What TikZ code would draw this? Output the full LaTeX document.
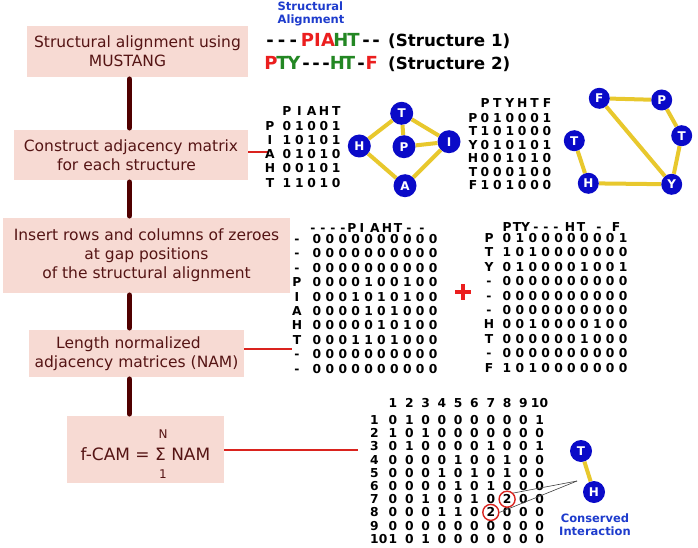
\documentclass[tikz,border=0pt]{standalone}
\usepackage{fontspec}
\setmainfont{DejaVu Sans}
\usetikzlibrary{calc}
\definecolor{boxfill}{RGB}{247,218,211}
\definecolor{boxtext}{RGB}{85,20,20}
\definecolor{spinecol}{RGB}{80,0,0}
\definecolor{linkred}{RGB}{218,35,30}
\definecolor{nodeblue}{RGB}{10,10,200}
\definecolor{edgeyellow}{RGB}{232,200,45}
\definecolor{titleblue}{RGB}{30,60,205}
\definecolor{algred}{RGB}{235,30,30}
\definecolor{alggreen}{RGB}{35,135,35}
\newcommand\mxrow[5]{%
  \edef\mxlist{#5}%
  \foreach \ch [count=\k] in \mxlist
    \node[mx] (#1-\k) at ({#2+(\k-1)*#3},#4) {\ch};}
\begin{document}
\begin{tikzpicture}[x=1pt,y=-1pt,
  stepbox/.style={fill=boxfill,text=boxtext,align=center,inner sep=0pt,
    font=\fontsize{15.5}{19}\selectfont},
  spineline/.style={draw=spinecol,line width=5.5pt,line cap=round},
  link/.style={draw=linkred,line width=2.6pt},
  mx/.style={font=\bfseries\fontsize{12.3}{12.3}\selectfont,inner sep=0pt,
    text height=9pt,text depth=0pt},
  gnode/.style={circle,fill=nodeblue,text=white,
    font=\bfseries\fontsize{12}{12}\selectfont,inner sep=0pt,minimum size=22pt},
  gedge/.style={draw=edgeyellow,line width=4pt},
  al/.style={font=\bfseries\fontsize{18}{18}\selectfont,inner sep=0pt,anchor=base},
  strlab/.style={font=\bfseries\fontsize{16.7}{16.7}\selectfont,inner sep=0pt,anchor=base west},
  bluetitle/.style={text=titleblue,font=\bfseries\fontsize{11.5}{13.5}\selectfont,
    inner sep=0pt,align=left},
  ringmark/.style={circle,draw=linkred,line width=1.4pt,minimum size=16pt,inner sep=0pt},
  pointer/.style={draw=black!75,line width=0.6pt}
]
\fill[white] (0,0) rectangle (698,548);
\path[use as bounding box] (0,0) rectangle (698,548);

% ---------- left column boxes ----------
\node[stepbox,minimum width=221pt,minimum height=51pt] (b1) at (137.5,51.5)
  {Structural alignment using\\MUSTANG\hspace*{20pt}};
\node[stepbox,minimum width=234pt,minimum height=50pt] (b2) at (131,155)
  {Construct adjacency matrix\\for each structure\hspace*{9pt}};
\node[stepbox,minimum width=287pt,minimum height=75pt] (b3) at (146.5,255.5)
  {Insert rows and columns of zeroes\\at gap positions\\of the structural alignment};
\node[stepbox,minimum width=215pt,minimum height=47pt] (b4) at (136.5,353.5)
  {Length normalized\hspace*{16pt}\\adjacency matrices (NAM)};
\node[stepbox,minimum width=157pt,minimum height=67pt] (b5) at (145.5,449.5) {};
\node[text=boxtext,font=\fontsize{17}{17}\selectfont,inner sep=0pt,anchor=base]
  (b5t) at (145.5,460) {f-CAM = Σ NAM};
\node[text=boxtext,font=\fontsize{12}{12}\selectfont,inner sep=0pt] (b5n) at (163,434.5) {N};
\node[text=boxtext,font=\fontsize{12}{12}\selectfont,inner sep=0pt] (b5one) at (163,474.5) {1};

% spine connectors
\coordinate (spine) at (129.5,0);
\draw[spineline] ([yshift=-2pt]b1.south -| spine) -- ([yshift=2pt]b2.north -| spine);
\draw[spineline] ([yshift=-2pt]b2.south -| spine) -- ([yshift=2pt]b3.north -| spine);
\draw[spineline] ([yshift=-2pt]b3.south -| spine) -- ([yshift=2pt]b4.north -| spine);
\draw[spineline] ([yshift=-2pt]b4.south -| spine) -- ([yshift=2pt]b5.north -| spine);

% red links
\coordinate (l2) at (268,152);
\coordinate (l4) at (292,349);
\coordinate (l5) at (358,450);
\draw[link] (b2.east |- l2) -- (l2);
\draw[link] (b4.east |- l4) -- (l4);
\draw[link] (b5.east |- l5) -- (l5);

% ---------- structural alignment ----------
\node[bluetitle] (sat) at (311,14) {Structural\\Alignment};
\foreach \ch/\xx/\cc [count=\k] in {-/270/black,-/281.7/black,-/293.3/black,
    P/307.5/algred,I/317.5/algred,A/328/algred,H/341/alggreen,T/353.5/alggreen,
    -/366/black,-/376/black}
  \node[al,text=\cc] (sa-\k) at (\xx,46.5) {\ch};
\foreach \ch/\xx/\cc [count=\k] in {P/271/algred,T/282.5/alggreen,Y/294/alggreen,
    -/306/black,-/316/black,-/326/black,H/337.5/alggreen,T/349/alggreen,
    -/361/black,F/371.7/algred}
  \node[al,text=\cc] (sb-\k) at (\xx,70) {\ch};
\node[strlab] (s1) at (388,46.5) {(Structure 1)};
\node[strlab] (s2) at (388,70) {(Structure 2)};

% ---------- matrix 1 ----------
\mxrow{mah}{287}{12.3}{111}{P,I,A,H,T}
\foreach \lab/\vals [count=\r] in {P/{0,1,0,0,1},I/{1,0,1,0,1},A/{0,1,0,1,0},
    H/{0,0,1,0,1},T/{1,1,0,1,0}}{
  \node[mx] (mal-\r) at (270,{126.5+(\r-1)*14}) {\lab};
  \mxrow{mar\r}{287}{12.3}{{126.5+(\r-1)*14}}{\vals}
}

% ---------- graph 1 ----------
\node[gnode,minimum size=23pt] (g1T) at (401.7,113.3) {T};
\node[gnode,minimum size=23pt] (g1H) at (359.3,146) {H};
\node[gnode,minimum size=23pt] (g1P) at (404,146.7) {P};
\node[gnode,minimum size=23pt] (g1I) at (449,141.7) {I};
\node[gnode,minimum size=23pt] (g1A) at (405,185.7) {A};
\draw[gedge] (g1T) -- (g1H);
\draw[gedge] (g1T) -- (g1P);
\draw[gedge] (g1T) -- (g1I);
\draw[gedge] (g1P) -- (g1I);
\draw[gedge] (g1H) -- (g1A);
\draw[gedge] (g1A) -- (g1I);

% ---------- matrix 2 ----------
\mxrow{mbh}{485}{12.4}{103}{P,T,Y,H,T,F}
\foreach \lab/\vals [count=\r] in {P/{0,1,0,0,0,1},T/{1,0,1,0,0,0},Y/{0,1,0,1,0,1},
    H/{0,0,1,0,1,0},T/{0,0,0,1,0,0},F/{1,0,1,0,0,0}}{
  \node[mx] (mbl-\r) at (473,{118+(\r-1)*13.4}) {\lab};
  \mxrow{mbr\r}{485}{12.4}{{118+(\r-1)*13.4}}{\vals}
}

% ---------- graph 2 ----------
\node[gnode,minimum size=21pt] (g2F) at (599.3,98.3) {F};
\node[gnode,minimum size=21pt] (g2P) at (661.7,100) {P};
\node[gnode,minimum size=21pt] (g2Tr) at (681.7,135.7) {T};
\node[gnode,minimum size=21pt] (g2Tl) at (574.3,140.7) {T};
\node[gnode,minimum size=21pt] (g2H) at (588.3,183.3) {H};
\node[gnode,minimum size=21pt] (g2Y) at (671.7,184.3) {Y};
\draw[gedge] (g2F) -- (g2P);
\draw[gedge] (g2P) -- (g2Tr);
\draw[gedge] (g2Tr) -- (g2Y);
\draw[gedge] (g2F) -- (g2Y);
\draw[gedge] (g2Y) -- (g2H);
\draw[gedge] (g2H) -- (g2Tl);

% ---------- matrix 3 ----------
\foreach \ch/\xx [count=\k] in {-/313,-/323,-/333,-/343,P/352,I/362,A/375,H/387,T/398,-/409,-/422}
  \node[mx] (mch-\k) at (\xx,227.5) {\ch};
\foreach \lab/\vals [count=\r] in {
  -/{0,0,0,0,0,0,0,0,0,0},
  -/{0,0,0,0,0,0,0,0,0,0},
  -/{0,0,0,0,0,0,0,0,0,0},
  P/{0,0,0,0,1,0,0,1,0,0},
  I/{0,0,0,1,0,1,0,1,0,0},
  A/{0,0,0,0,1,0,1,0,0,0},
  H/{0,0,0,0,0,1,0,1,0,0},
  T/{0,0,0,1,1,0,1,0,0,0},
  -/{0,0,0,0,0,0,0,0,0,0},
  -/{0,0,0,0,0,0,0,0,0,0}}{
  \node[mx] (mcl-\r) at (297,{239+(\r-1)*14.4}) {\lab};
  \mxrow{mcr\r}{317}{12.9}{{239+(\r-1)*14.4}}{\vals}
}

% plus sign
\draw[draw=algred,line width=4pt] (455,292) -- (471,292);
\draw[draw=algred,line width=4pt] (463,284) -- (463,300);

% ---------- matrix 4 ----------
\foreach \ch/\xx [count=\k] in {P/507,T/517,Y/525.5,-/536,-/546,-/556,H/570,T/581,-/599,F/616}
  \node[mx] (mdh-\k) at (\xx,226.5) {\ch};
\foreach \lab/\vals [count=\r] in {
  P/{0,1,0,0,0,0,0,0,0,1},
  T/{1,0,1,0,0,0,0,0,0,0},
  Y/{0,1,0,0,0,0,1,0,0,1},
  -/{0,0,0,0,0,0,0,0,0,0},
  -/{0,0,0,0,0,0,0,0,0,0},
  -/{0,0,0,0,0,0,0,0,0,0},
  H/{0,0,1,0,0,0,0,1,0,0},
  T/{0,0,0,0,0,0,1,0,0,0},
  -/{0,0,0,0,0,0,0,0,0,0},
  F/{1,0,1,0,0,0,0,0,0,0}}{
  \node[mx] (mdl-\r) at (489,{238+(\r-1)*14.4}) {\lab};
  \mxrow{mdr\r}{507}{12.9}{{238+(\r-1)*14.4}}{\vals}
}

% ---------- f-CAM matrix ----------
\mxrow{meh}{393}{16.3}{403}{1,2,3,4,5,6,7,8,9}
\node[mx] (meh-10) at (539.5,403) {10};
\foreach \vals [count=\r] in {
  {0,1,0,0,0,0,0,0,0,1},
  {1,0,1,0,0,0,0,0,0,0},
  {0,1,0,0,0,0,1,0,0,1},
  {0,0,0,0,1,0,0,1,0,0},
  {0,0,0,1,0,1,0,1,0,0},
  {0,0,0,0,1,0,1,0,0,0},
  {0,0,1,0,0,1,0,2,0,0},
  {0,0,0,1,1,0,2,0,0,0},
  {0,0,0,0,0,0,0,0,0,0},
  {1,0,1,0,0,0,0,0,0,0}}{
  \node[mx,anchor=west] (mel-\r) at (370,{420+(\r-1)*13.2}) {\r};
  \mxrow{mer\r}{393}{16.3}{{420+(\r-1)*13.2}}{\vals}
}
\node[ringmark] (ring1) at (507.1,499.2) {};
\node[ringmark] (ring2) at (490.8,512.4) {};

% conserved interaction
\node[gnode] (g3T) at (581,451) {T};
\node[gnode] (g3H) at (594,492) {H};
\draw[gedge] (g3T) -- (g3H);
\coordinate (conv) at (577,481);
\draw[pointer] (ring1.north east) -- (conv);
\draw[pointer] (ring2.east) -- (conv);
\node[bluetitle,align=center] (ci) at (595,524.5) {Conserved\\Interaction};
\end{tikzpicture}
\end{document}
